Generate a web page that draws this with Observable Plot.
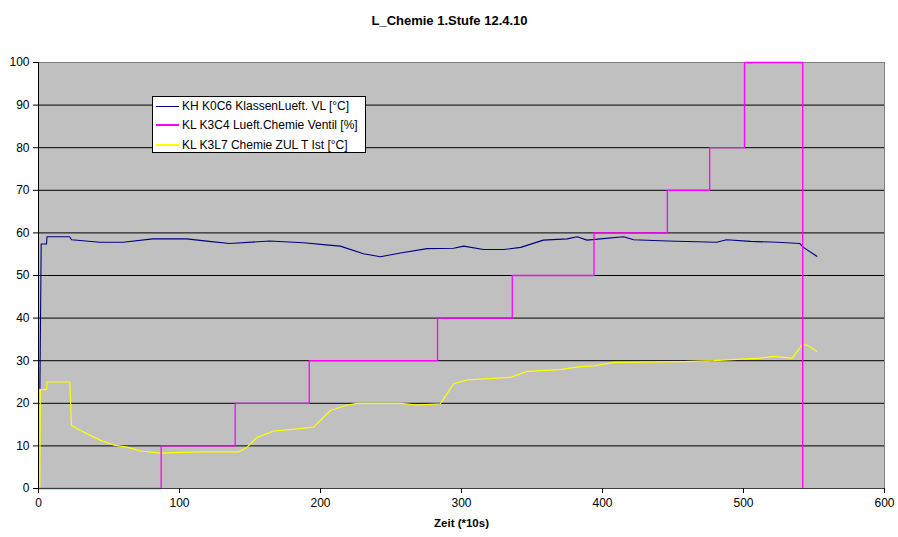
<!DOCTYPE html>
<html>
<head>
<meta charset="utf-8">
<script src="https://cdn.jsdelivr.net/npm/d3@7"></script>
<script src="https://cdn.jsdelivr.net/npm/@observablehq/plot@0.6"></script>
<style>
  body { margin: 0; background: #fff; font-family: Arial, "Liberation Sans", sans-serif; }
  #wrap { position: relative; width: 898px; height: 537px; }
  #legend { position: absolute; left: 152px; top: 96px; width: 214px; height: 57px;
    box-sizing: border-box; border: 1px solid #000; background: #fff; font-size: 12px; }
  .row { position: absolute; left: 3px; height: 14px; display: flex; align-items: center; white-space: nowrap; }
  .sw { width: 23px; height: 0; margin-right: 3px; }
</style>
</head>
<body>
<div id="wrap"><div id="chart"></div><div id="legend"></div></div>
<script>
const title = "L_Chemie 1.Stufe 12.4.10";
const xLabel = "Zeit (*10s)";
const seriesNames = ["KH K0C6 KlassenLueft. VL [°C]", "KL K3C4 Lueft.Chemie Ventil [%]", "KL K3L7 Chemie ZUL T Ist [°C]"];
const seriesColors = ["#000080", "#ff00ff", "#ffff00"];
const xTicks = [0, 100, 200, 300, 400, 500, 600];
const yTicks = [0, 10, 20, 30, 40, 50, 60, 70, 80, 90, 100];

// KH K0C6 KlassenLueft. VL [°C]
const tVL = [1, 1.9, 5.7, 6, 22, 23.5, 43.5, 60, 81, 105, 121, 135.5, 164, 188, 204, 214, 230.5, 242.5, 256.7, 275.6, 294.4, 301.6, 315.6, 330, 342, 358, 375, 382, 389, 398.6, 415, 422, 446, 481, 488, 505, 524, 540, 542.5, 552];
const vVL = [23.5, 57.4, 57.4, 59.1, 59.1, 58.4, 57.8, 57.8, 58.6, 58.6, 58, 57.5, 58.1, 57.7, 57.2, 56.9, 55.1, 54.4, 55.3, 56.3, 56.4, 56.9, 56.1, 56.1, 56.6, 58.3, 58.6, 59.1, 58.3, 58.6, 59.1, 58.4, 58.1, 57.8, 58.4, 58, 57.8, 57.5, 56.6, 54.5];

// KL K3C4 Lueft.Chemie Ventil [%] (step changes)
const tVent = [0, 87, 139.5, 192, 283, 336, 394, 446, 476, 500.7, 542];
const vVent = [0, 10, 20, 30, 40, 50, 60, 70, 80, 100, 0];

// KL K3L7 Chemie ZUL T Ist [°C]
const tZUL = [0, 0.9, 1.3, 5.7, 6, 22.2, 23.4, 29.8, 44, 53.4, 62.9, 72.3, 86.5, 100.7, 115, 142, 148, 155, 167, 180, 195, 207, 219, 226, 256.7, 268.6, 285, 294.5, 304, 334.8, 346.6, 370, 384, 394, 408, 457.7, 479, 512, 521, 534.5, 541.6, 545, 552];
const vZUL = [0, 0, 23.2, 23.2, 25, 25, 14.8, 13.6, 11.3, 10.2, 9.7, 8.8, 8.3, 8.5, 8.6, 8.6, 9.7, 12, 13.5, 13.9, 14.4, 18.3, 19.6, 20, 20, 19.6, 19.9, 24.6, 25.5, 26.1, 27.5, 27.9, 28.6, 28.8, 29.6, 29.8, 30, 30.6, 31, 30.6, 33.7, 33.7, 32.2];

const vl = tVL.map((t, i) => ({t, v: vVL[i]}));
const vent = tVent.map((t, i) => ({t, v: vVent[i]}));
const zul = tZUL.map((t, i) => ({t, v: vZUL[i]}));

const font = "Arial, 'Liberation Sans', sans-serif";

const chart = Plot.plot({
  width: 898,
  height: 537,
  marginLeft: 38,
  marginRight: 14,
  marginTop: 62,
  marginBottom: 49,
  style: {fontFamily: font, fontSize: "12px", background: "#fff", color: "#000"},
  x: {domain: [0, 600], label: null},
  y: {domain: [0, 100], label: null},
  marks: [
    Plot.frame({fill: "#c0c0c0"}),
    Plot.ruleY(yTicks.filter(d => d > 0 && d < 100), {stroke: "#000", strokeWidth: 1}),
    Plot.frame({stroke: "#808080", strokeWidth: 1}),
    Plot.line(vl, {x: "t", y: "v", stroke: seriesColors[0], strokeWidth: 1.1}),
    Plot.line(zul, {x: "t", y: "v", stroke: seriesColors[2], strokeWidth: 1.2}),
    Plot.line(vent, {x: "t", y: "v", stroke: seriesColors[1], strokeWidth: 1.3, curve: "step-after"}),
    Plot.ruleX([0], {stroke: "#000"}),
    Plot.ruleY([0], {stroke: "#404040"}),
    Plot.axisY({ticks: yTicks, tickSize: 5, tickPadding: 4, fontSize: 12, stroke: "#000", strokeOpacity: 1}),
    Plot.axisX({ticks: xTicks, tickSize: 5, tickPadding: 5, fontSize: 12, stroke: "#000", strokeOpacity: 1}),
    Plot.text([title], {frameAnchor: "top", dx: -12, dy: -47, fontSize: 13, fontWeight: "bold", fill: "#000"}),
    Plot.text([xLabel], {frameAnchor: "bottom", dy: 38, fontSize: 11.5, fontWeight: "bold", fill: "#000"})
  ]
});
document.getElementById("chart").appendChild(chart);

const legend = document.getElementById("legend");
const rowTops = [2, 21, 41];
seriesNames.forEach((name, i) => {
  const row = document.createElement("div");
  row.className = "row";
  row.style.top = rowTops[i] + "px";
  const sw = document.createElement("div");
  sw.className = "sw";
  sw.style.borderTop = (i === 0 ? "1px" : "2px") + " solid " + seriesColors[i];
  row.appendChild(sw);
  const label = document.createElement("span");
  label.textContent = name;
  row.appendChild(label);
  legend.appendChild(row);
});
</script>
</body>
</html>
